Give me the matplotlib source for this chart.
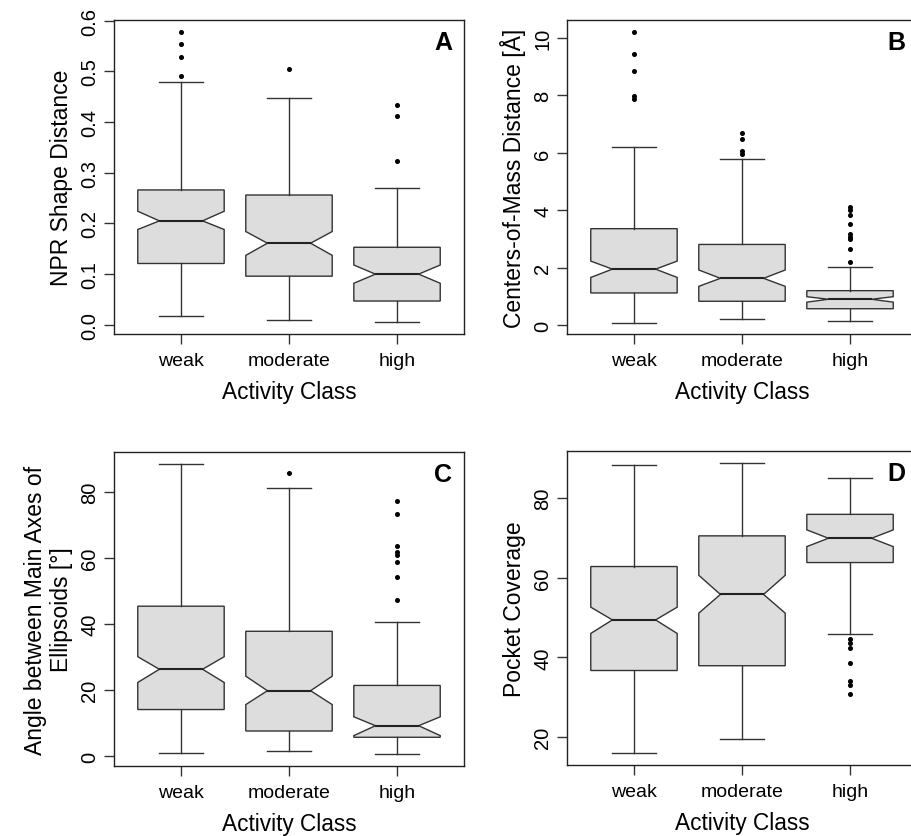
import matplotlib.pyplot as plt

plt.rcParams["font.family"] = ["Liberation Sans", "DejaVu Sans"]

classes = ["weak", "moderate", "high"]

# panel A: NPR Shape Distance
a_whislo = [0.017, 0.0105, 0.005]
a_q1 = [0.121, 0.096, 0.047]
a_med = [0.205, 0.161, 0.100]
a_q3 = [0.266, 0.256, 0.153]
a_whishi = [0.479, 0.447, 0.270]
a_cilo = [0.188, 0.137, 0.082]
a_cihi = [0.224, 0.184, 0.118]
a_fliers = [[0.490, 0.529, 0.553, 0.577], [0.504], [0.323, 0.412, 0.433]]

# panel B: Centers-of-Mass Distance
b_whislo = [0.09, 0.21, 0.13]
b_q1 = [1.12, 0.83, 0.57]
b_med = [1.95, 1.63, 0.90]
b_q3 = [3.36, 2.81, 1.20]
b_whishi = [6.19, 5.77, 2.02]
b_cilo = [1.66, 1.35, 0.80]
b_cihi = [2.23, 1.92, 0.99]
b_fliers = [[7.88, 7.97, 8.84, 9.44, 10.22],
            [5.97, 6.08, 6.49, 6.70],
            [2.20, 2.64, 3.00, 3.08, 3.17, 3.51, 3.85, 4.00, 4.11]]

# panel C: Angle between main axes
c_whislo = [0.9, 1.5, 0.5]
c_q1 = [14.1, 7.6, 5.7]
c_med = [26.3, 19.8, 9.2]
c_q3 = [45.4, 37.8, 21.4]
c_whishi = [88.6, 81.1, 40.5]
c_cilo = [22.3, 15.6, 6.2]
c_cihi = [30.1, 24.2, 11.9]
c_fliers = [[], [85.7], [47.4, 54.2, 58.8, 61.0, 61.9, 63.6, 73.4, 77.4]]

# panel D: Pocket Coverage
d_whislo = [15.9, 19.4, 45.8]
d_q1 = [36.7, 37.9, 63.8]
d_med = [49.4, 55.8, 69.9]
d_q3 = [62.8, 70.5, 75.9]
d_whishi = [88.2, 88.9, 85.1]
d_cilo = [46.0, 51.1, 67.8]
d_cihi = [52.6, 60.6, 72.0]
d_fliers = [[], [], [30.7, 33.0, 34.1, 38.5, 42.4, 43.5, 44.6]]

W, H = 911, 837
fig = plt.figure(figsize=(W / 100, H / 100), dpi=100)


def make_stats(whislo, q1, med, q3, whishi, cilo, cihi, fliers):
    out = []
    for i in range(len(med)):
        out.append(dict(whislo=whislo[i], q1=q1[i], med=med[i], q3=q3[i],
                        whishi=whishi[i], cilo=cilo[i], cihi=cihi[i],
                        fliers=fliers[i]))
    return out


def panel(rect, stats, ylim, yticks, yticklabels, ylabel, letter):
    l, t, r, b = rect
    ax = fig.add_axes([l / W, 1 - b / H, (r - l) / W, (b - t) / H])
    line = dict(color="#333333", linewidth=1.0)
    ax.bxp(stats, positions=[1, 2, 3], widths=0.8, shownotches=True,
           patch_artist=True,
           boxprops=dict(facecolor="#dddddd", edgecolor="#333333", linewidth=1.0),
           medianprops=dict(color="#222222", linewidth=1.5),
           whiskerprops=line, capprops=line,
           flierprops=dict(marker="o", markersize=2.6, markerfacecolor="black",
                           markeredgecolor="black", linestyle="none"))
    ax.set_xlim(0.38, 3.62)
    ax.set_ylim(*ylim)
    ax.set_xticks([1, 2, 3])
    ax.set_xticklabels(classes, fontsize=14)
    ax.set_yticks(yticks)
    ax.set_yticklabels(yticklabels, fontsize=14.5, rotation=90, va="center")
    ax.tick_params(direction="out", length=7, width=1, color="#333333")
    ax.tick_params(axis="x", pad=6)
    ax.tick_params(axis="y", pad=3.5)
    ax.set_xlabel("Activity Class", fontsize=16.3, labelpad=8)
    ax.set_ylabel(ylabel, fontsize=16.5, labelpad=5)
    for s in ax.spines.values():
        s.set_linewidth(1.0)
        s.set_color("#222222")
    ax.text(0.94, 0.93, letter, transform=ax.transAxes, fontsize=18,
            fontweight="bold", ha="center", va="center")
    return ax


panel((114, 21, 464, 335),
      make_stats(a_whislo, a_q1, a_med, a_q3, a_whishi, a_cilo, a_cihi, a_fliers),
      (-0.018, 0.601), [0, 0.1, 0.2, 0.3, 0.4, 0.5, 0.6],
      ["0.0", "0.1", "0.2", "0.3", "0.4", "0.5", "0.6"],
      "NPR Shape Distance", "A")

panel((567, 21, 917, 335),
      make_stats(b_whislo, b_q1, b_med, b_q3, b_whishi, b_cilo, b_cihi, b_fliers),
      (-0.31, 10.63), [0, 2, 4, 6, 8, 10],
      ["0", "2", "4", "6", "8", "10"],
      "Centers-of-Mass Distance [Å]", "B")

panel((114, 453, 464, 767),
      make_stats(c_whislo, c_q1, c_med, c_q3, c_whishi, c_cilo, c_cihi, c_fliers),
      (-3.0, 92.1), [0, 20, 40, 60, 80],
      ["0", "20", "40", "60", "80"],
      "Angle between Main Axes of\nEllipsoids [°]", "C")

panel((567, 452, 917, 766),
      make_stats(d_whislo, d_q1, d_med, d_q3, d_whishi, d_cilo, d_cihi, d_fliers),
      (12.98, 91.8), [20, 40, 60, 80],
      ["20", "40", "60", "80"],
      "Pocket Coverage", "D")

fig.savefig("out.png", dpi=100)
